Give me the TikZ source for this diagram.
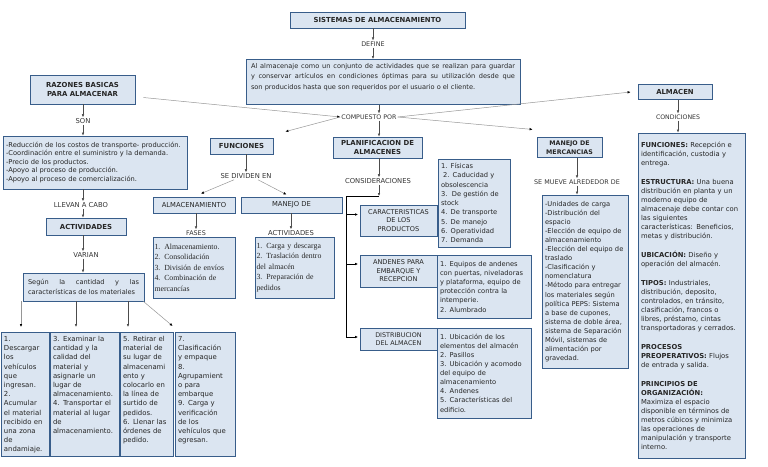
\documentclass[tikz,border=0pt]{standalone}
\usepackage{fontspec}
\setmainfont{DejaVu Sans}
\newfontfamily\serifa{Liberation Serif}
\usetikzlibrary{arrows.meta}

\definecolor{fondo}{RGB}{219,229,241}
\definecolor{borde}{RGB}{56,93,138}
\definecolor{guia}{RGB}{150,150,150}
\newcommand{\letra}[2]{\fontsize{#1}{#2}\selectfont}

\begin{document}
\begin{tikzpicture}[x=1pt, y=-1pt, font=\letra{6.8}{9.1},
    caja/.style={draw=borde, fill=fondo, line width=0.8pt, inner sep=3pt, text=black!85},
    negra/.style={caja, font=\bfseries\letra{6.9}{9}, align=center},
    lista/.style={caja, align=left},
    etq/.style={inner sep=1pt, text=black!80},
    flecha/.style={-{Latex[length=3pt,width=2.6pt]}, line width=0.5pt, black!70},
    guiaf/.style={-{Latex[length=3pt,width=2.6pt,color=black]}, line width=0.5pt, guia},
    corchete/.style={-{Latex[length=3pt,width=2.6pt]}, line width=0.9pt, black, shorten >=1.5pt}]
    \useasboundingbox (0,0) rectangle (768,466);

    \node[negra, minimum width=175pt, minimum height=16pt] (titulo) at (377.5,20) {SISTEMAS DE ALMACENAMIENTO};
    \node[etq, font=\letra{6.4}{8}] (define) at (373,44) {DEFINE};
    \node[caja, anchor=north, inner xsep=5pt, text width=264pt, align=justify, text height=6pt, text depth=33pt, font=\letra{6.6}{10.5}] (defin) at (383,59) {Al almacenaje como un conjunto de actividades que se realizan para guardar\linebreak y conservar artículos en condiciones óptimas para su utilización desde que\linebreak son producidos hasta que son requeridos por el usuario o el cliente.};
    \node[etq, font=\letra{6.3}{8}] (compuesto) at (369,117) {COMPUESTO POR};
    \coordinate (ejeA) at ([xshift=10pt]compuesto.north);

    \node[negra, minimum width=105pt, minimum height=29pt] (razones) at (82.5,89.5) {RAZONES BASICAS\\PARA ALMACENAR};
    \node[etq] (son) at (83,121) {SON};
    \node[lista, text width=178pt, minimum height=53pt, font=\letra{6.7}{8.5}] (razlista) at (95,162.5) {-Reducción de los costos de transporte- producción.\\-Coordinación entre el suministro y la demanda.\\-Precio de los productos.\\-Apoyo al proceso de producción.\\-Apoyo al proceso de comercialización.};
    \node[etq] (llevan) at (81,205) {LLEVAN A CABO};
    \node[negra, minimum width=80pt, minimum height=17pt] (activ) at (86,226.5) {ACTIVIDADES};
    \node[etq] (varian) at (86,255) {VARIAN};
    \node[caja, inner xsep=5pt, text width=111pt, align=justify, minimum height=28pt, font=\letra{6.6}{10}] (segun) at (83.5,287) {Según la cantidad y las\linebreak características de los materiales};

    \node[lista, anchor=north, text width=42pt, text height=6pt, text depth=112pt, font=\letra{6.9}{9.2}] (b1) at (25,332) {1.\\Descargar\\los\\vehículos\\que\\ingresan.\\2.\\Acumular\\el material\\recibido en\\una zona\\de\\andamiaje.};
    \node[lista, anchor=north, text width=63pt, text height=6pt, text depth=112pt, font=\letra{6.9}{9.2}] (b2) at (84.5,332) {3. Examinar la\\cantidad y la\\calidad del\\material y\\asignarle un\\lugar de\\almacenamiento.\\4. Transportar el\\material al lugar\\de\\almacenamiento.};
    \node[lista, anchor=north, text width=47pt, text height=6pt, text depth=112pt, font=\letra{6.9}{9.2}] (b3) at (146.5,332) {5. Retirar el\\material de\\su lugar de\\almacenami\\ento y\\colocarlo en\\la línea de\\surtido de\\pedidos.\\6. Llenar las\\órdenes de\\pedido.};
    \node[lista, anchor=north, text width=54pt, text height=6pt, text depth=112pt, font=\letra{6.9}{9.2}] (b4) at (205,332) {7.\\Clasificación\\y empaque\\8.\\Agrupamient\\o para\\embarque\\9. Carga y\\verificación\\de los\\vehículos que\\egresan.};

    \node[negra, minimum width=63pt, minimum height=16pt] (funciones) at (241.5,146) {FUNCIONES};
    \node[etq] (sedividen) at (246,176) {SE DIVIDEN EN};
    \node[caja, minimum width=82pt, minimum height=16pt] (almac) at (194,205) {ALMACENAMIENTO};
    \node[caja, minimum width=101pt, minimum height=16pt] (manejo) at (291.5,205) {MANEJO DE};
    \node[lista, inner xsep=1.5pt, text width=79pt, minimum height=61pt, font=\serifa\letra{7.8}{10.5}] (fasesbox) at (194,267.5) {1. Almacenamiento.\\2. Consolidación\\3. División de envíos\\4. Combinación de\\mercancías};
    \node[lista, inner xsep=1.5pt, text width=76pt, minimum height=61pt, font=\serifa\letra{7.8}{10.5}] (activbox) at (294.5,267.5) {1. Carga y descarga\\2. Traslación dentro\\del almacén\\3. Preparación de\\pedidos};
    \node[etq, font=\letra{6.4}{8}] (fases) at (196,233) {FASES};
    \node[etq] (activ2) at (291,233) {ACTIVIDADES};

    \node[negra, minimum width=89pt, minimum height=21pt] (planif) at (377.5,147.5) {PLANIFICACION DE\\ALMACENES};
    \node[etq] (consid) at (378,181) {CONSIDERACIONES};
    \node[caja, align=center, minimum width=77pt, minimum height=31pt, font=\letra{6.6}{8.5}] (carac) at (398.5,220.5) {CARACTERISTICAS\\DE LOS\\PRODUCTOS};
    \node[lista, text width=66pt, minimum height=88pt, font=\letra{6.7}{9.3}] (lista1) at (474,203) {1. Físicas\\\hspace*{2pt}2. Caducidad y\\obsolescencia\\3.\ \ De gestión de\\stock\\4. De transporte\\5. De manejo\\6. Operatividad\\7. Demanda};
    \node[caja, align=center, minimum width=77pt, minimum height=32pt, font=\letra{6.6}{8.5}] (andenes) at (398.5,271) {ANDENES PARA\\EMBARQUE Y\\RECEPCION};
    \node[lista, text width=88pt, minimum height=63pt, font=\letra{6.7}{9.2}] (lista2) at (484,286.5) {1. Equipos de andenes\\con puertas, niveladoras\\y plataforma, equipo de\\protección contra la\\intemperie.\\2. Alumbrado};
    \node[caja, align=center, minimum width=77pt, minimum height=22pt, font=\letra{6.4}{8.5}] (distrib) at (398.5,339) {DISTRIBUCION\\DEL ALMACEN};
    \node[lista, text width=88pt, minimum height=90pt, font=\letra{6.7}{9.1}] (lista3) at (484,373) {1. Ubicación de los\\elementos del almacén\\2. Pasillos\\3. Ubicación y acomodo\\del equipo de\\almacenamiento\\4. Andenes\\5. Características del\\edificio.};

    \node[negra, font=\bfseries\letra{6.3}{8.5}, minimum width=65pt, minimum height=19pt] (mercan) at (569.5,147.5) {MANEJO DE\\MERCANCIAS};
    \node[etq, font=\letra{6.4}{8}] (semueve) at (577,182) {SE MUEVE ALREDEDOR DE};
    \node[lista, text width=80pt, minimum height=173pt, font=\letra{6.7}{9.1}] (lista4) at (585,281.5) {-Unidades de carga\\-Distribución del\\espacio\\-Elección de equipo de\\almacenamiento\\-Elección del equipo de\\traslado\\-Clasificación y\\nomenclatura\\-Método para entregar\\los materiales según\\política PEPS: Sistema\\a base de cupones,\\sistema de doble área,\\sistema de Separación\\Móvil, sistemas de\\alimentación por\\gravedad.};

    \node[negra, minimum width=74pt, minimum height=15pt] (almacen) at (675,92) {ALMACEN};
    \node[etq, font=\letra{6.2}{8}] (condic) at (678,117) {CONDICIONES};
    \node[lista, text width=101pt, minimum height=325pt, font=\letra{6.8}{9}] (lista5) at (691.5,295.5) {\textbf{FUNCIONES:} Recepción e\\identificación, custodia y\\entrega.\\[10pt]\textbf{ESTRUCTURA:} Una buena\\distribución en planta y un\\moderno equipo de\\almacenaje debe contar con\\las siguientes\\características: Beneficios,\\metas y distribución.\\[10pt]\textbf{UBICACIÓN:} Diseño y\\operación del almacén.\\[10pt]\textbf{TIPOS:} Industriales,\\distribución, deposito,\\controlados, en tránsito,\\clasificación, francos o\\libres, préstamo, cintas\\transportadoras y cerrados.\\[10pt]\textbf{PROCESOS}\\\textbf{PREOPERATIVOS:} Flujos\\de entrada y salida.\\[10pt]\textbf{PRINCIPIOS DE}\\\textbf{ORGANIZACIÓN:}\\Maximiza el espacio\\disponible en términos de\\metros cúbicos y minimiza\\las operaciones de\\manipulación y transporte\\interno.};

    \draw[flecha] (titulo.south -| define) -- (define);
    \draw[flecha] (define) -- (define |- defin.north);
    \draw[flecha] (ejeA |- defin.south) -- (ejeA);
    \draw[flecha] (ejeA |- compuesto.south) -- (ejeA |- planif.north);
    \draw[guiaf] ([xshift=8pt,yshift=-8pt]razones.east) -- (compuesto.west);
    \draw[guiaf] (compuesto.west) -- ([xshift=12pt,yshift=6pt]funciones.north east);
    \draw[guiaf] (compuesto.east) -- ([xshift=-7pt]almacen.west);
    \draw[guiaf] (compuesto.east) -- ([xshift=-4pt,yshift=8pt]mercan.north west);

    \draw[flecha] (razones.south -| son) -- (son);
    \draw[flecha] (son) -- (son |- razlista.north);
    \draw[flecha] (razlista.south -| son) -- (son |- llevan.north);
    \draw[flecha] (son |- llevan.south) -- (son |- activ.north);
    \draw[flecha] (son |- activ.south) -- (son |- varian.north);
    \draw[flecha] (son |- varian.south) -- (son |- segun.north);

    \coordinate (t1) at ([xshift=-4pt,yshift=5pt]b1.north);
    \coordinate (t2) at ([xshift=-8.5pt,yshift=5pt]b2.north);
    \coordinate (t3) at ([xshift=-18.5pt,yshift=5pt]b3.north);
    \draw[guiaf] (t1 |- segun.south) -- (t1);
    \draw[flecha] (t2 |- segun.south) -- (t2);
    \draw[flecha] (t3 |- segun.south) -- (t3);
    \draw[guiaf] ([xshift=-1pt]segun.south east) -- ([xshift=-2pt,yshift=6pt]b4.north west);

    \draw[flecha] (funciones.south -| sedividen) -- (sedividen);
    \draw[guiaf] ([xshift=-12pt]sedividen.south) -- ([xshift=7pt,yshift=3pt]almac.north);
    \draw[guiaf] ([xshift=12pt]sedividen.south) -- ([xshift=-5pt,yshift=2pt]manejo.north);
    \draw[flecha] (almac.south -| fases) -- (fases);
    \draw[flecha] (manejo.south -| activ2) -- (activ2);

    \coordinate (esq) at (379,196);
    \coordinate (codo) at (346,196);
    \coordinate (r1) at ([yshift=6pt]carac.west);
    \coordinate (r2) at ([yshift=7pt]andenes.west);
    \draw[flecha] (planif.south -| ejeA) -- (ejeA |- consid.north);
    \draw[flecha] (ejeA |- consid.south) -- (esq);
    \draw[corchete] (esq) -- (codo) |- ([yshift=2pt]distrib.west);
    \draw[corchete] (codo |- r1) -- (r1);
    \draw[corchete] (codo |- r2) -- (r2);

    \draw[flecha] (mercan.south -| semueve) -- (semueve);
    \draw[flecha] (semueve) -- (semueve |- lista4.north);
    \draw[flecha] (almacen.south -| condic) -- (condic);
    \draw[flecha] (condic) -- (condic |- lista5.north);
\end{tikzpicture}
\end{document}
